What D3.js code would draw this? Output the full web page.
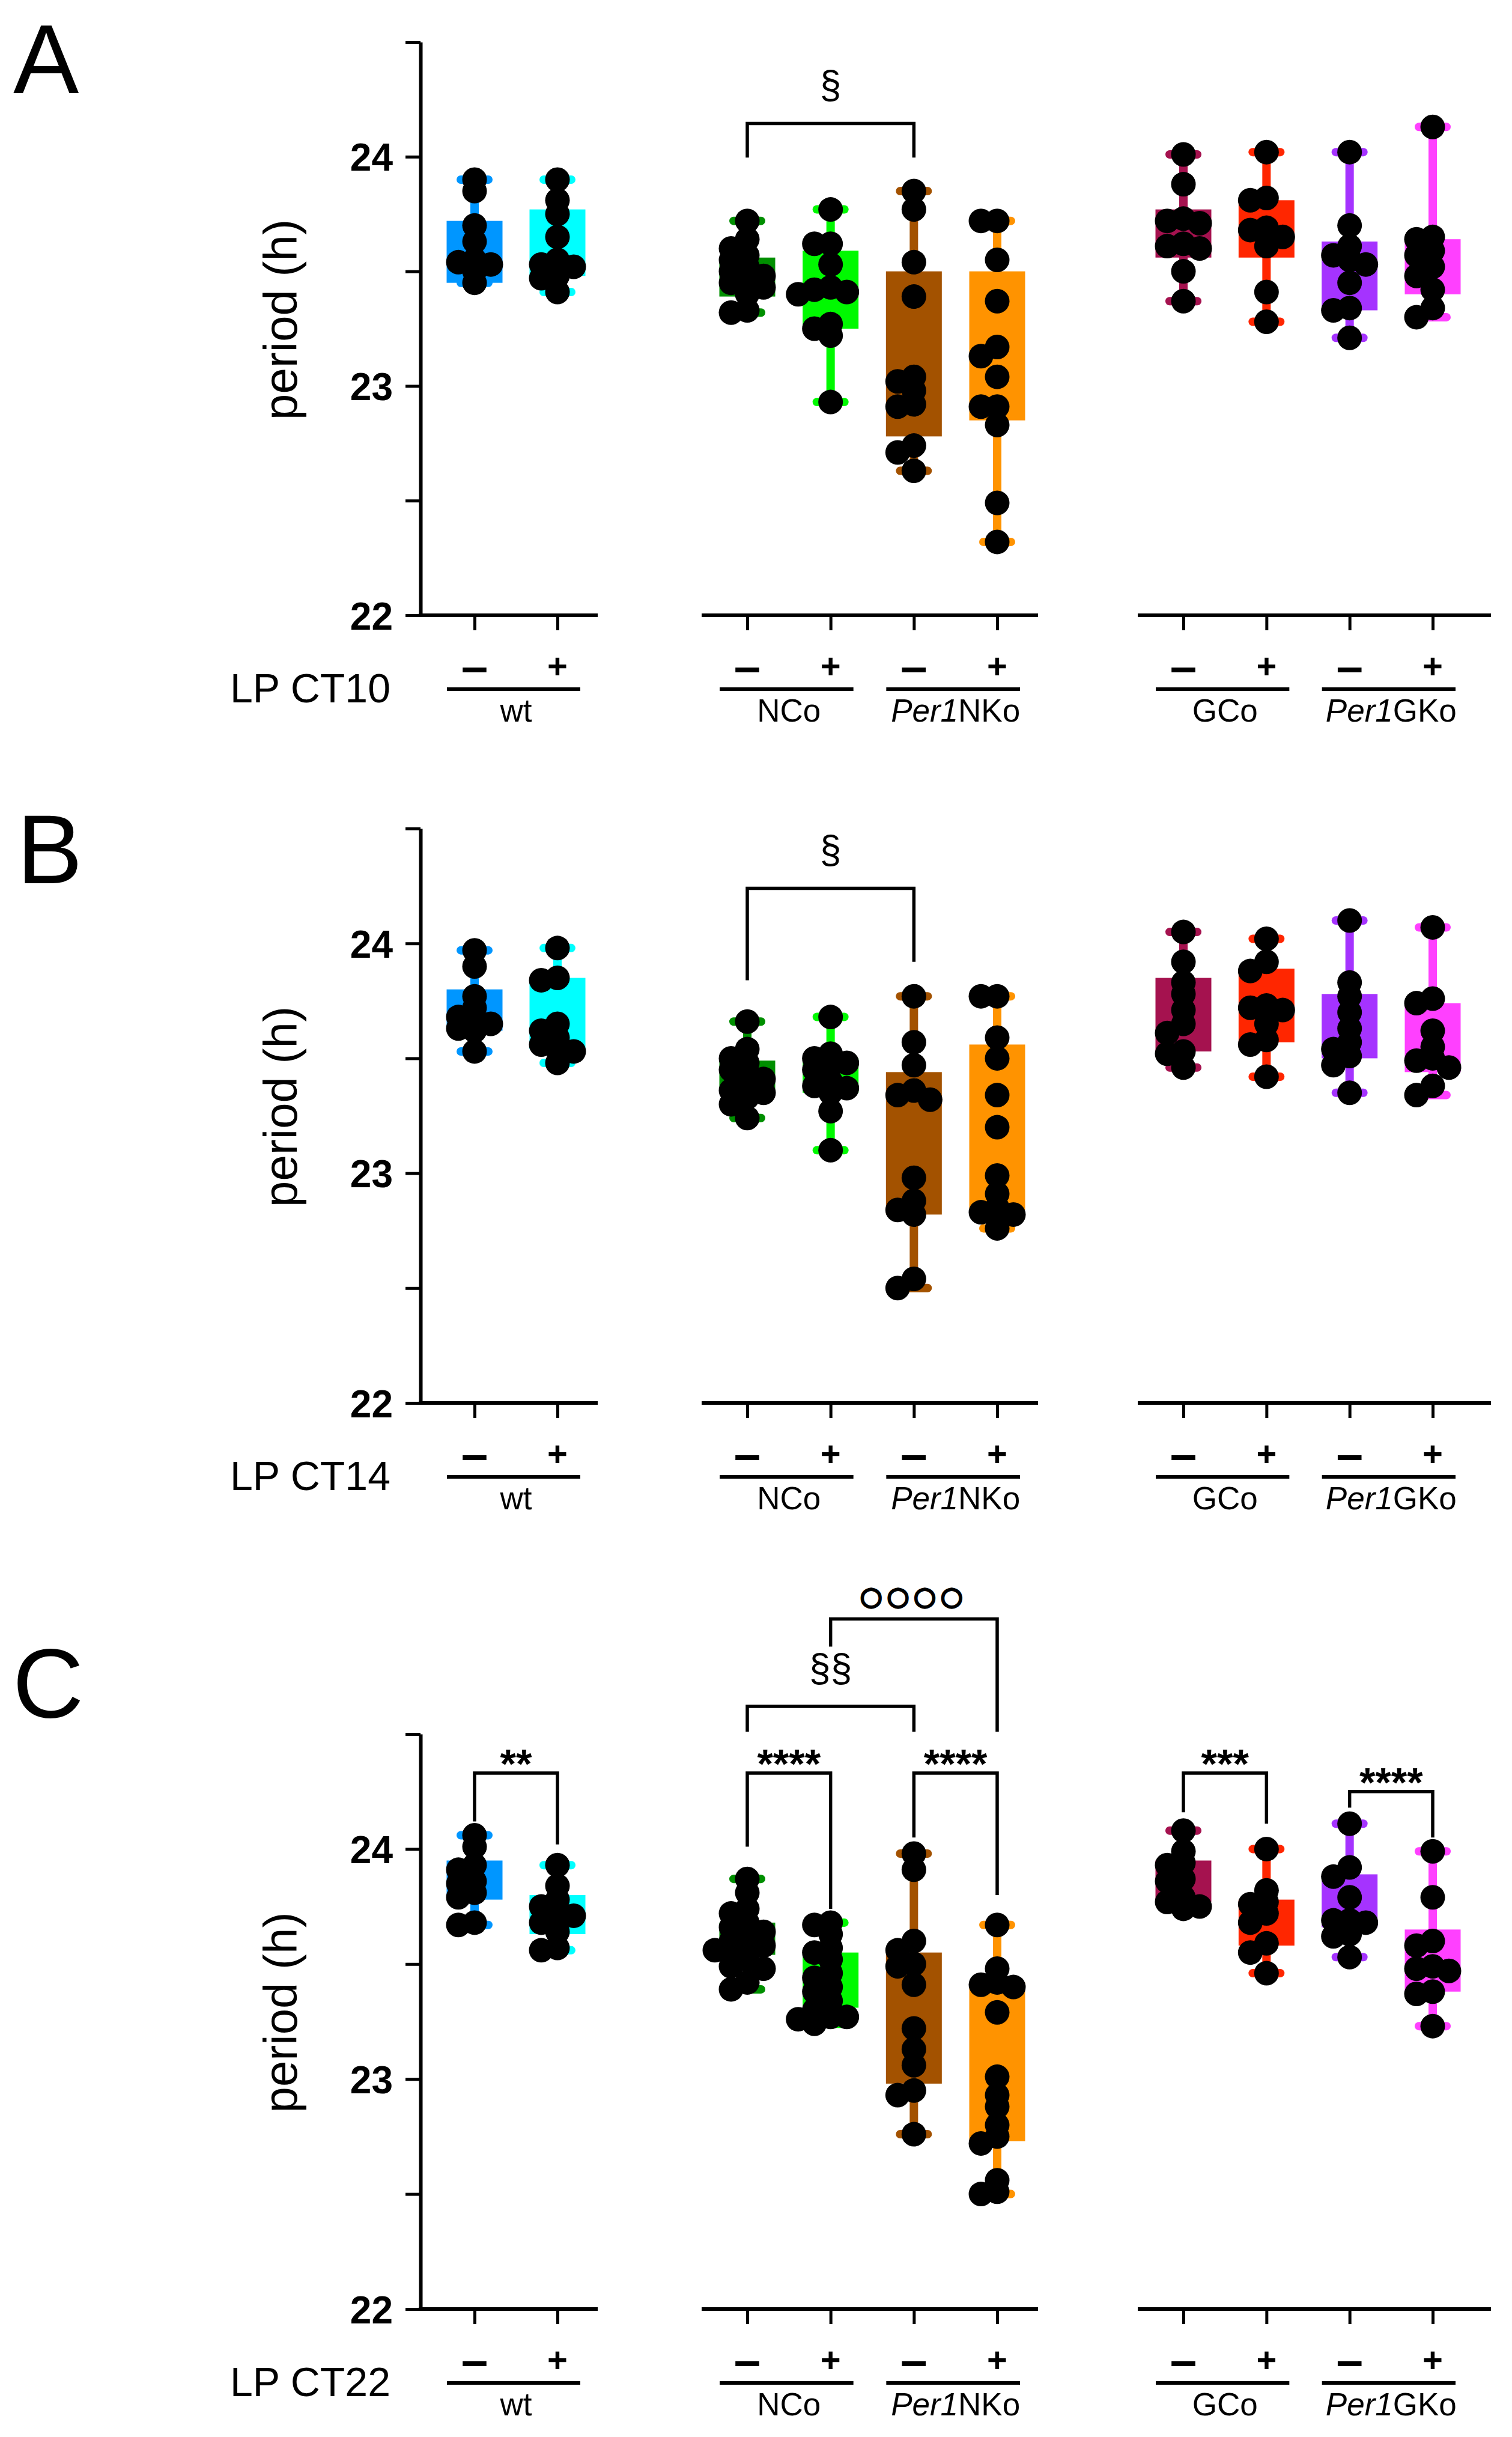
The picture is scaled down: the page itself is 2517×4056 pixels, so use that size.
<!DOCTYPE html>
<html>
<head>
<meta charset="utf-8">
<script src="https://cdn.jsdelivr.net/npm/d3@7"></script>
<style>
  body { margin: 0; background: #fff; }
  svg { display: block; }
</style>
</head>
<body>
<svg id="fig" width="2517" height="4056"></svg>
<script>
// ---- data -------------------------------------------------------------
const groups = ['wt-', 'wt+', 'NCo-', 'NCo+', 'Per1NKo-', 'Per1NKo+', 'GCo-', 'GCo+', 'Per1GKo-', 'Per1GKo+'];
const lpSigns = ['–', '+', '–', '+', '–', '+', '–', '+', '–', '+'];
const genotypes = [
  {name: 'wt', italic: '', cats: ['wt-', 'wt+']},
  {name: 'NCo', italic: '', cats: ['NCo-', 'NCo+']},
  {name: 'NKo', italic: 'Per1', cats: ['Per1NKo-', 'Per1NKo+']},
  {name: 'GCo', italic: '', cats: ['GCo-', 'GCo+']},
  {name: 'GKo', italic: 'Per1', cats: ['Per1GKo-', 'Per1GKo+']}
];
const yTicks = [22, 22.5, 23, 23.5, 24, 24.5];

// period (h), one array per group, order as in `groups`
const ptsCT10 = [
  [23.90, 23.85, 23.70, 23.63, 23.55, 23.54, 23.53, 23.50, 23.45],
  [23.90, 23.81, 23.75, 23.65, 23.55, 23.53, 23.52, 23.48, 23.47, 23.41],
  [23.72, 23.64, 23.60, 23.57, 23.55, 23.52, 23.50, 23.48, 23.46, 23.45, 23.43, 23.40, 23.33, 23.32],
  [23.77, 23.62, 23.62, 23.53, 23.43, 23.42, 23.41, 23.40, 23.27, 23.25, 23.22, 22.93],
  [23.85, 23.77, 23.54, 23.39, 23.04, 23.02, 22.98, 22.92, 22.91, 22.74, 22.71, 22.63],
  [23.72, 23.72, 23.55, 23.37, 23.17, 23.13, 23.04, 22.91, 22.91, 22.83, 22.49, 22.32],
  [24.01, 23.88, 23.73, 23.72, 23.71, 23.62, 23.61, 23.60, 23.50, 23.37],
  [24.02, 23.82, 23.81, 23.69, 23.68, 23.65, 23.61, 23.41, 23.28],
  [24.02, 23.70, 23.61, 23.57, 23.55, 23.53, 23.45, 23.34, 23.33, 23.21],
  [24.13, 23.65, 23.64, 23.59, 23.57, 23.52, 23.48, 23.42, 23.34, 23.30]
];
const q1CT10 = [23.45, 23.48, 23.39, 23.25, 22.78, 22.85, 23.56, 23.56, 23.33, 23.40];
const q3CT10 = [23.72, 23.77, 23.56, 23.59, 23.50, 23.50, 23.77, 23.81, 23.63, 23.64];

const ptsCT14 = [
  [23.97, 23.90, 23.77, 23.72, 23.68, 23.67, 23.65, 23.63, 23.62, 23.53],
  [23.98, 23.85, 23.84, 23.65, 23.62, 23.59, 23.56, 23.54, 23.53, 23.48],
  [23.66, 23.54, 23.50, 23.48, 23.45, 23.43, 23.41, 23.38, 23.36, 23.35, 23.33, 23.30, 23.24],
  [23.68, 23.52, 23.50, 23.48, 23.47, 23.45, 23.40, 23.38, 23.37, 23.35, 23.27, 23.10],
  [23.77, 23.57, 23.47, 23.36, 23.34, 23.32, 22.98, 22.88, 22.84, 22.82, 22.54, 22.50],
  [23.77, 23.77, 23.59, 23.50, 23.34, 23.20, 22.99, 22.91, 22.85, 22.83, 22.82, 22.76],
  [24.05, 23.92, 23.83, 23.78, 23.71, 23.65, 23.61, 23.53, 23.52, 23.46],
  [24.02, 23.92, 23.88, 23.73, 23.72, 23.71, 23.65, 23.58, 23.56, 23.42],
  [24.10, 23.83, 23.77, 23.70, 23.63, 23.57, 23.54, 23.51, 23.47, 23.35],
  [24.07, 23.76, 23.74, 23.62, 23.55, 23.50, 23.49, 23.46, 23.38, 23.34]
];
const q1CT14 = [23.62, 23.54, 23.35, 23.35, 22.82, 22.84, 23.53, 23.57, 23.50, 23.44];
const q3CT14 = [23.80, 23.85, 23.49, 23.50, 23.44, 23.56, 23.85, 23.89, 23.78, 23.74];

const ptsCT22 = [
  [24.06, 24.01, 23.93, 23.91, 23.86, 23.85, 23.81, 23.79, 23.68, 23.67],
  [23.93, 23.84, 23.78, 23.75, 23.72, 23.71, 23.68, 23.64, 23.57, 23.56],
  [23.87, 23.81, 23.74, 23.72, 23.68, 23.66, 23.64, 23.62, 23.60, 23.58, 23.57, 23.56, 23.54, 23.52, 23.49, 23.48, 23.42, 23.39],
  [23.68, 23.67, 23.63, 23.57, 23.55, 23.52, 23.46, 23.44, 23.40, 23.38, 23.34, 23.30, 23.27, 23.27, 23.26, 23.24],
  [23.98, 23.91, 23.60, 23.56, 23.50, 23.49, 23.41, 23.22, 23.13, 23.06, 22.95, 22.93, 22.76],
  [23.67, 23.48, 23.42, 23.41, 23.40, 23.29, 23.01, 22.93, 22.88, 22.80, 22.75, 22.72, 22.56, 22.51, 22.50],
  [24.08, 23.99, 23.94, 23.93, 23.87, 23.86, 23.79, 23.77, 23.75, 23.74],
  [24.00, 23.82, 23.77, 23.76, 23.72, 23.68, 23.59, 23.55, 23.46],
  [24.11, 23.92, 23.88, 23.79, 23.69, 23.69, 23.68, 23.63, 23.62, 23.53],
  [23.99, 23.79, 23.60, 23.58, 23.49, 23.48, 23.47, 23.38, 23.37, 23.23]
];
const q1CT22 = [23.78, 23.63, 23.54, 23.31, 22.98, 22.73, 23.77, 23.58, 23.66, 23.38];
const q3CT22 = [23.95, 23.80, 23.68, 23.55, 23.55, 23.42, 23.95, 23.78, 23.89, 23.65];

// significance brackets: bar level and leg ends in hours
const sigCT10 = [
  {a: 'NCo-', b: 'Per1NKo-', bar: 24.145, legA: 23.996, legB: 23.996, label: '§'}
];
const sigCT14 = [
  {a: 'NCo-', b: 'Per1NKo-', bar: 24.24, legA: 23.84, legB: 23.92, label: '§'}
];
const sigCT22 = [
  {a: 'wt-', b: 'wt+', bar: 24.33, legA: 24.12, legB: 24.02, label: '**'},
  {a: 'NCo-', b: 'NCo+', bar: 24.33, legA: 24.01, legB: 23.74, label: '****'},
  {a: 'Per1NKo-', b: 'Per1NKo+', bar: 24.33, legA: 24.05, legB: 23.80, label: '****'},
  {a: 'NCo-', b: 'Per1NKo-', bar: 24.62, legA: 24.51, legB: 24.51, label: '§§'},
  {a: ['NCo-', 'Per1NKo-'], b: 'Per1NKo+', bar: 25.00, legA: 24.88, legB: 24.51, label: '○○○○'},
  {a: 'GCo-', b: 'GCo+', bar: 24.33, legA: 24.16, legB: 24.11, label: '***'},
  {a: 'Per1GKo-', b: 'Per1GKo+', bar: 24.25, legA: 24.18, legB: 24.05, label: '****'}
];

// ---- style / layout ---------------------------------------------------
const boxColors = ['#0096ff', '#00ffff', '#008f00', '#00f900', '#a35200', '#ff9300', '#a5124f', '#ff2600', '#a533ff', '#ff40ff'];
const FONT = '"Liberation Sans", Arial, Helvetica, sans-serif';
const AXIS_X = 700;
const BOX_W = 93, DOT_R = 20.5, STEP = 27, MIN_D = 19;

const segments = [
  {cats: ['wt-', 'wt+'], range: [790, 928], line: [AXIS_X, 992]},
  {cats: ['NCo-', 'NCo+', 'Per1NKo-', 'Per1NKo+'], range: [1244, 1660], line: [1171, 1725]},
  {cats: ['GCo-', 'GCo+', 'Per1GKo-', 'Per1GKo+'], range: [1970, 2385], line: [1897, 2479]}
];

const panels = [
  {id: 'A', lp: 'LP CT10', pts: ptsCT10, q1: q1CT10, q3: q3CT10, sig: sigCT10, top: 70, bottom: 1024, letterX: 22, letterY: 155},
  {id: 'B', lp: 'LP CT14', pts: ptsCT14, q1: q1CT14, q3: q3CT14, sig: sigCT14, top: 1379, bottom: 2335, letterX: 28, letterY: 1470},
  {id: 'C', lp: 'LP CT22', pts: ptsCT22, q1: q1CT22, q3: q3CT22, sig: sigCT22, top: 2886, bottom: 3843, letterX: 21, letterY: 2858}
];

const svg = d3.select('#fig');
svg.append('rect').attr('width', 2517).attr('height', 4056).attr('fill', '#fff');

// simple beeswarm: keep the dot in the middle unless it hits an earlier one
function swarm(vals, y, cx) {
  const placed = [];
  vals.forEach(v => {
    const py = y(v);
    for (let k = 0; k < 30; k++) {
      const off = k === 0 ? 0 : (k % 2 ? -1 : 1) * Math.ceil(k / 2) * STEP;
      const px = cx + off;
      if (placed.every(q => Math.hypot(q.x - px, q.y - py) >= MIN_D)) {
        placed.push({x: px, y: py});
        break;
      }
    }
  });
  return placed;
}

panels.forEach(p => {
  const g = svg.append('g').attr('class', 'panel-' + p.id);
  const y = d3.scaleLinear().domain([22, 24.5]).range([p.bottom, p.top]);
  const x = {};

  // x axes, one per genotype block
  segments.forEach(s => {
    const sc = d3.scalePoint().domain(s.cats).range(s.range);
    s.cats.forEach(c => { x[c] = sc(c); });
    g.append('line')
      .attr('x1', s.line[0]).attr('x2', s.line[1])
      .attr('y1', p.bottom).attr('y2', p.bottom)
      .attr('stroke', '#000').attr('stroke-width', 6).attr('stroke-linecap', 'square');
    const ax = g.append('g')
      .attr('transform', 'translate(0,' + p.bottom + ')')
      .call(d3.axisBottom(sc).tickSize(25).tickSizeOuter(0).tickFormat(''));
    ax.select('.domain').remove();
    ax.selectAll('.tick line').attr('stroke', '#000').attr('stroke-width', 5);
  });

  // y axis
  const ya = g.append('g')
    .attr('transform', 'translate(' + AXIS_X + ',0)')
    .call(d3.axisLeft(y).tickValues(yTicks).tickSize(25).tickSizeOuter(0).tickPadding(21)
      .tickFormat(d => Number.isInteger(d) ? d : ''));
  ya.attr('font-family', FONT).attr('font-size', 64).attr('font-weight', 'bold');
  ya.select('.domain').attr('stroke', '#000').attr('stroke-width', 6);
  ya.selectAll('.tick line').attr('stroke', '#000').attr('stroke-width', 5);
  ya.selectAll('.tick text').attr('fill', '#000').attr('dy', '0.36em');

  g.append('text')
    .attr('transform', 'translate(494,' + ((p.top + p.bottom) / 2 - 15) + ') rotate(-90)')
    .attr('text-anchor', 'middle')
    .attr('font-family', FONT).attr('font-size', 78)
    .text('period (h)');

  g.append('text')
    .attr('x', p.letterX).attr('y', p.letterY)
    .attr('font-family', FONT).attr('font-size', 164)
    .text(p.id);

  // LP row
  g.append('text')
    .attr('x', 650).attr('y', p.bottom + 145)
    .attr('text-anchor', 'end')
    .attr('font-family', FONT).attr('font-size', 68)
    .text(p.lp);

  groups.forEach((c, i) => {
    const plus = lpSigns[i] === '+';
    g.append('text')
      .attr('x', x[c]).attr('y', p.bottom + 84)
      .attr('text-anchor', 'middle').attr('dominant-baseline', 'central')
      .attr('font-family', FONT).attr('font-weight', 'bold')
      .attr('font-size', plus ? 58 : 80)
      .text(lpSigns[i]);
  });

  // genotype underline + name
  genotypes.forEach(gt => {
    const x0 = x[gt.cats[0]] - 46, x1 = x[gt.cats[gt.cats.length - 1]] + 38;
    g.append('line')
      .attr('x1', x0).attr('x2', x1)
      .attr('y1', p.bottom + 123).attr('y2', p.bottom + 123)
      .attr('stroke', '#000').attr('stroke-width', 6);
    const t = g.append('text')
      .attr('x', d3.mean(gt.cats, c => x[c])).attr('y', p.bottom + 177)
      .attr('text-anchor', 'middle')
      .attr('font-family', FONT).attr('font-size', 53);
    if (gt.italic) t.append('tspan').attr('font-style', 'italic').text(gt.italic);
    t.append('tspan').text(gt.name);
  });

  // boxes and whiskers (min to max)
  groups.forEach((c, i) => {
    const [lo, hi] = d3.extent(p.pts[i]);
    const cx = x[c], col = boxColors[i];
    g.append('line')
      .attr('x1', cx).attr('x2', cx).attr('y1', y(lo)).attr('y2', y(hi))
      .attr('stroke', col).attr('stroke-width', 14);
    [lo, hi].forEach(v => {
      g.append('line')
        .attr('x1', cx - 23).attr('x2', cx + 23).attr('y1', y(v)).attr('y2', y(v))
        .attr('stroke', col).attr('stroke-width', 14).attr('stroke-linecap', 'round');
    });
    g.append('rect')
      .attr('x', cx - BOX_W / 2).attr('width', BOX_W)
      .attr('y', y(p.q3[i])).attr('height', y(p.q1[i]) - y(p.q3[i]))
      .attr('fill', col);
  });

  // individual animals
  groups.forEach((c, i) => {
    g.append('g').selectAll('circle')
      .data(swarm(p.pts[i], y, x[c]))
      .enter().append('circle')
      .attr('cx', d => d.x).attr('cy', d => d.y).attr('r', DOT_R)
      .attr('fill', '#000');
  });

  // significance brackets
  const pos = k => Array.isArray(k) ? d3.mean(k, c => x[c]) : x[k];
  p.sig.forEach(s => {
    const xa = pos(s.a), xb = pos(s.b);
    const path = d3.path();
    path.moveTo(xa, y(s.legA));
    path.lineTo(xa, y(s.bar));
    path.lineTo(xb, y(s.bar));
    path.lineTo(xb, y(s.legB));
    g.append('path').attr('d', path.toString())
      .attr('fill', 'none').attr('stroke', '#000').attr('stroke-width', 5.5);

    const t = g.append('text')
      .attr('x', (xa + xb) / 2)
      .attr('text-anchor', 'middle')
      .text(s.label);
    if (s.label.includes('*')) {
      t.attr('y', y(s.bar) + 8).attr('font-family', FONT).attr('font-weight', 'bold').attr('font-size', 68);
    } else if (s.label.includes('§')) {
      t.attr('y', y(s.bar) - 42).attr('font-family', FONT).attr('font-size', 64);
    } else {
      t.attr('y', y(s.bar) - 24).attr('font-family', '"DejaVu Sans", sans-serif').attr('font-size', 42)
        .attr('letter-spacing', 8).attr('stroke', '#000').attr('stroke-width', 3.2);
    }
  });
});
</script>
</body>
</html>
